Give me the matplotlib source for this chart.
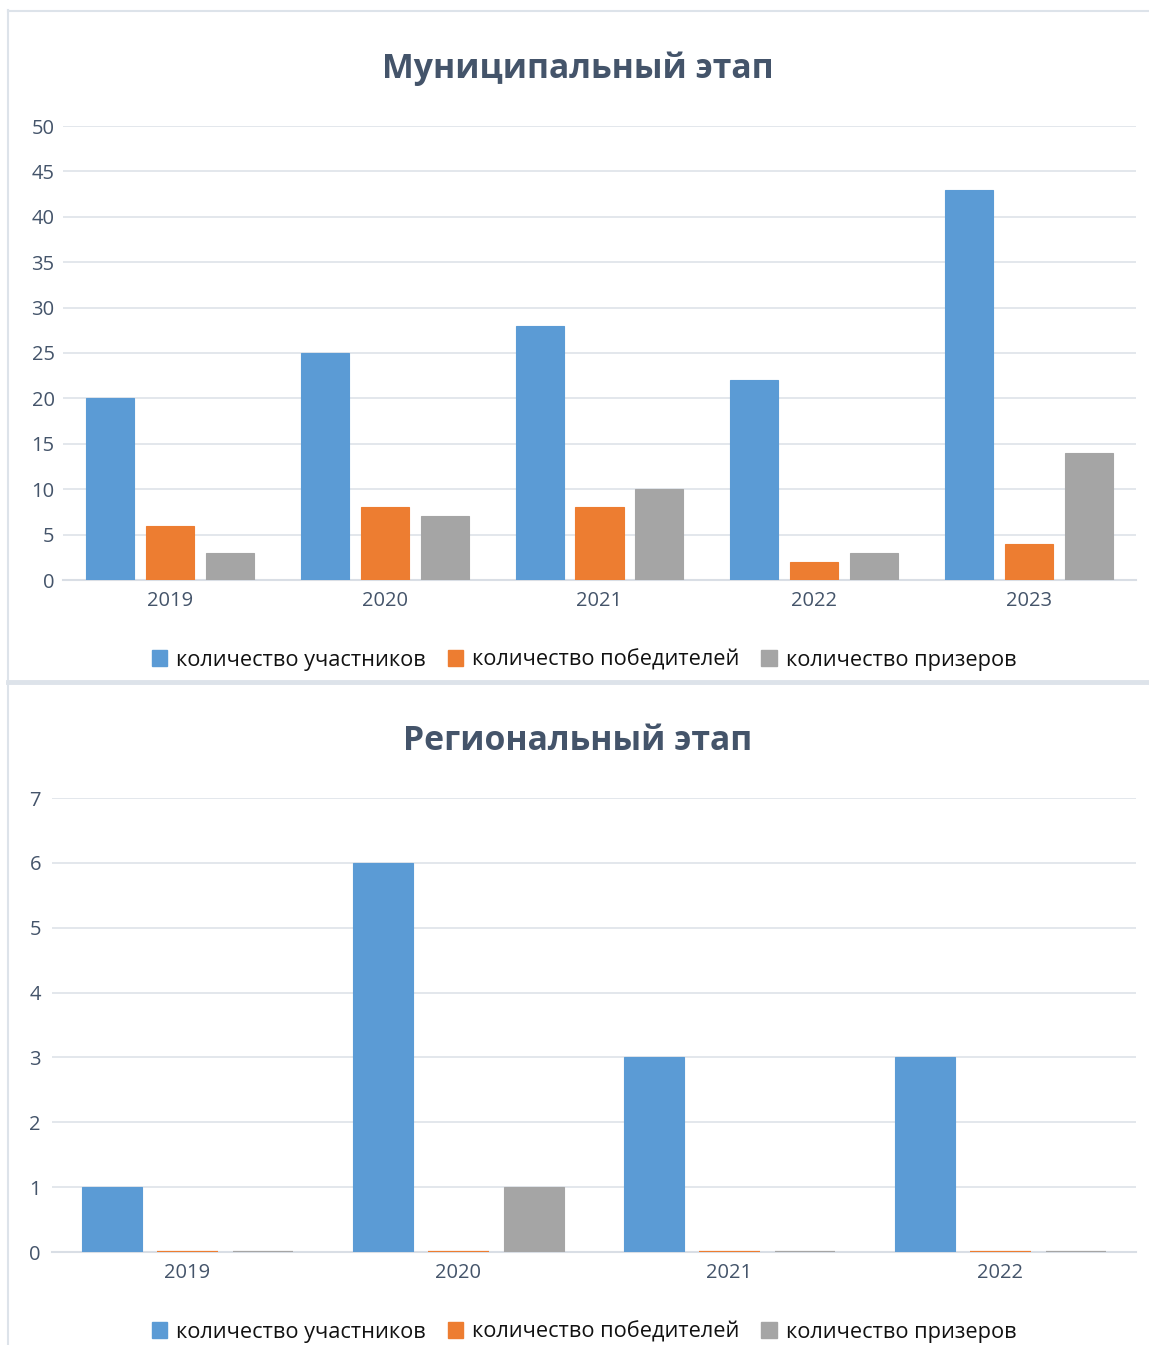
import matplotlib
matplotlib.use("Agg")
import matplotlib.pyplot as plt
import numpy as np
from matplotlib.patches import Rectangle
from matplotlib.lines import Line2D

plt.rcParams['font.family'] = ['Open Sans', 'DejaVu Sans']

# ---- data ----
series_names = ["количество участников", "количество победителей", "количество призеров"]
colors = ["#5B9BD5", "#ED7D31", "#A5A5A5"]

mun_title = "Муниципальный этап"
mun_years = ["2019", "2020", "2021", "2022", "2023"]
mun_participants = [20, 25, 28, 22, 43]
mun_winners = [6, 8, 8, 2, 4]
mun_prizers = [3, 7, 10, 3, 14]
mun_yticks = [0, 5, 10, 15, 20, 25, 30, 35, 40, 45, 50]

reg_title = "Региональный этап"
reg_years = ["2019", "2020", "2021", "2022"]
reg_participants = [1, 6, 3, 3]
reg_winners = [0, 0, 0, 0]
reg_prizers = [0, 1, 0, 0]
reg_yticks = [0, 1, 2, 3, 4, 5, 6, 7]

W, H = 1149, 1345
fig = plt.figure(figsize=(W / 100, H / 100), dpi=100)
fig.patch.set_facecolor("white")

def fx(x):
    return x / W

def fy(y):
    return 1 - y / H

border = "#DDE3EA"
# panel borders
fig.add_artist(Line2D([fx(8), fx(8)], [fy(10), fy(681)], color=border, lw=1.5, transform=fig.transFigure))
fig.add_artist(Line2D([fx(8), fx(1149)], [fy(10.5), fy(10.5)], color=border, lw=1.5, transform=fig.transFigure))
fig.add_artist(Line2D([fx(8), fx(1149)], [fy(682), fy(682)], color=border, lw=3.5, transform=fig.transFigure))
fig.add_artist(Line2D([fx(8), fx(8)], [fy(684), fy(1345)], color=border, lw=1.5, transform=fig.transFigure))

tick_color = "#44546A"
grid_color = "#E1E5EB"

def draw(x0, x1, ytop, ybot, years, vals, yticks, title, title_y, legend_y, ypad):
    ax = fig.add_axes([fx(x0), fy(ybot), fx(x1) - fx(x0), fy(ytop) - fy(ybot)])
    n = len(years)
    x = np.arange(n)
    w = 0.224
    step = 0.279
    for i, (v, c) in enumerate(zip(vals, colors)):
        lws = [1.6 if vv == 0 else 0.8 for vv in v]
        ax.bar(x + (i - 1) * step, v, width=w, color=c, edgecolor=c, linewidth=lws,
               label=series_names[i], zorder=3)
    ax.set_xlim(-0.5, n - 0.5)
    ax.set_ylim(yticks[0], yticks[-1])
    ax.set_yticks(yticks)
    ax.set_xticks(x)
    ax.set_xticklabels(years)
    ax.grid(axis="y", color=grid_color, linewidth=1.3, zorder=0)
    ax.set_axisbelow(True)
    for s in ["top", "right", "left"]:
        ax.spines[s].set_visible(False)
    ax.spines["bottom"].set_color("#D9DEE5")
    ax.spines["bottom"].set_linewidth(1.5)
    ax.spines["bottom"].set_zorder(2)
    ax.tick_params(axis="both", length=0, labelsize=14.5, colors=tick_color)
    ax.tick_params(axis="y", pad=ypad)
    ax.tick_params(axis="x", pad=8)
    fig.text(fx(578), fy(title_y + 3), title, ha="center", va="center",
             fontsize=24.3, fontweight="bold", color="#44546A")
    handles = [Rectangle((0, 0), 1, 1, color=c) for c in colors]
    fig.legend(handles, series_names, loc="center", bbox_to_anchor=(fx(584), fy(legend_y + 1)),
               ncol=3, frameon=False, fontsize=15.7, handlelength=0.72, handleheight=0.72,
               handletextpad=0.4, columnspacing=1.0, labelcolor="#111111")
    return ax

draw(63, 1136, 126, 580, mun_years, [mun_participants, mun_winners, mun_prizers],
     mun_yticks, mun_title, 66, 659, 6)
draw(52, 1136, 798, 1252, reg_years, [reg_participants, reg_winners, reg_prizers],
     reg_yticks, reg_title, 738, 1331, 8)

fig.savefig("out.png", dpi=100, facecolor="white")
